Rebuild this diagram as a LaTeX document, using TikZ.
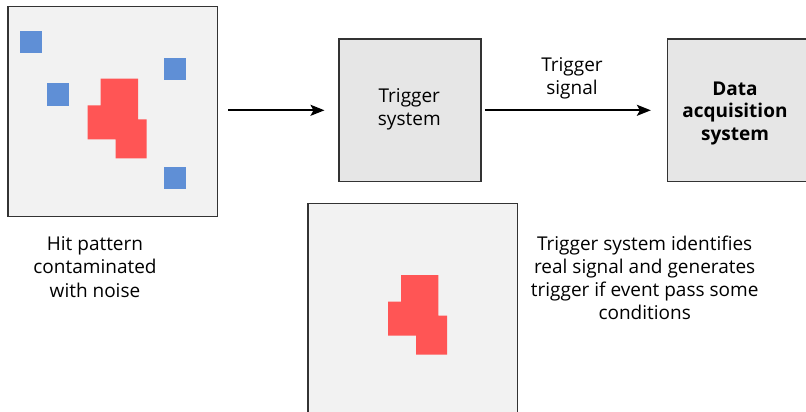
\documentclass[tikz,border=0pt]{standalone}
\usepackage{fontspec}
\setmainfont{Open Sans}
\usetikzlibrary{arrows.meta}
\definecolor{boxline}{HTML}{333333}
\definecolor{panelfill}{HTML}{F2F2F2}
\definecolor{sysfill}{HTML}{E6E6E6}
\definecolor{hitred}{HTML}{FF5555}
\definecolor{noiseblue}{HTML}{5F8FD6}
\newcommand\hitshape{(100.7,78.7) -- (138,78.7) -- (138,119.3) -- (146.7,119.3) -- (146.7,158.3) -- (115.7,158.3) -- (115.7,139.3) -- (87.7,139.3) -- (87.7,105.3) -- (100.7,105.3) -- cycle}
\begin{document}
\begin{tikzpicture}[x=1pt,y=-1pt,
  panel/.style={draw=boxline, line width=1.5pt, fill=panelfill, minimum width=209.5pt, minimum height=209.5pt, inner sep=0pt},
  sysbox/.style={draw=boxline, line width=1.5pt, fill=sysfill, minimum width=142.3pt, minimum height=142.7pt, inner sep=0pt},
  lbl/.style={align=center, inner sep=0pt, font=\fontsize{19}{23.2}\selectfont},
  flow/.style={line width=2pt, -{Stealth[length=14pt, width=11pt, inset=3pt]}},
  noise/.style={fill=noiseblue},
  hit/.style={fill=hitred}]
\useasboundingbox (0,0) rectangle (806,412);
\clip (0,0) rectangle (806,412);
% hit pattern panel
\node[panel] (raw) at (112.5,111.5) {};
\fill[noise] (20,31) rectangle (42,53);
\fill[noise] (47.3,83.3) rectangle (69.3,105.7);
\fill[noise] (163.7,57.7) rectangle (186,80.3);
\fill[noise] (163.7,167.3) rectangle (186,189.3);
\fill[hit] \hitshape;
% filtered panel
\node[panel] (clean) at (412.9,308) {};
\begin{scope}[shift={(300.3,196.3)}]
\fill[hit] \hitshape;
\end{scope}
% systems
\node[sysbox] (trig) at (409.9,110.3) {};
\node[lbl, font=\fontsize{19}{22.8}\selectfont] (trigtext) at (409.3,109) {Trigger\\system};
\node[sysbox] (daq) at (738.8,110.3) {};
\node[lbl, font=\fontsize{19}{22.3}\selectfont\bfseries] (daqtext) at (735,113.5) {Data\\acquisition\\system};
% arrows
\draw[flow, shorten <=10pt, shorten >=13.5pt] (raw.east |- trig.west) -- (trig.west);
\draw[flow, shorten <=3pt, shorten >=16pt] (trig) -- (daq);
% labels
\node[lbl] (sig) at (572,78) {Trigger\\signal};
\node[lbl] (hitlbl) at (95,267) {Hit pattern\\contaminated\\with noise};
\node[lbl] (desc) at (644.7,278) {Trigger system identifies\\real signal and generates\\trigger if event pass some\\conditions};
\end{tikzpicture}
\end{document}
